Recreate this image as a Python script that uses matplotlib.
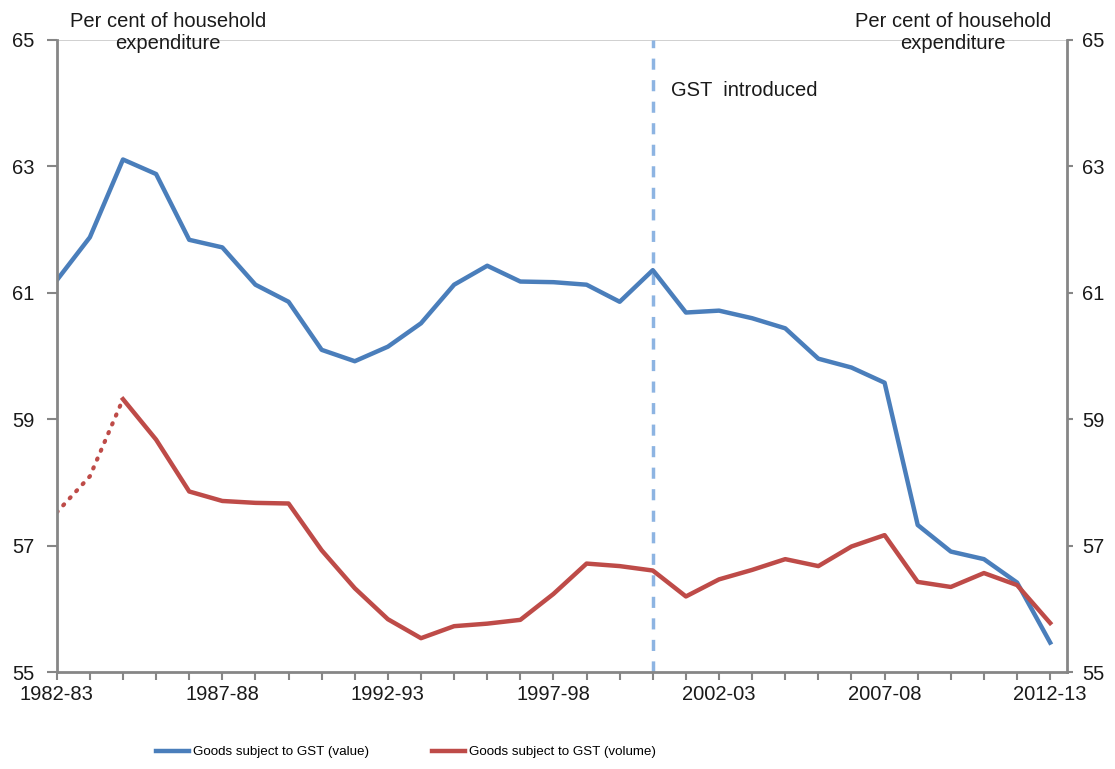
"""
Goods subject to GST as a share of household expenditure, 1982-83 to 2012-13.
"""

import matplotlib
matplotlib.use("Agg")
import matplotlib.pyplot as plt

plt.rcParams["font.family"] = ["Liberation Sans", "DejaVu Sans"]

YEARS = [f"{y}-{(y + 1) % 100:02d}" for y in range(1982, 2013)]

# Per cent of household expenditure
GST_VALUE = [
    61.20, 61.88, 63.11, 62.88, 61.84, 61.72, 61.13, 60.86, 60.10, 59.92,
    60.15, 60.52, 61.13, 61.43, 61.18, 61.17, 61.13, 60.86, 61.36, 60.69,
    60.72, 60.60, 60.44, 59.96, 59.82, 59.58, 57.33, 56.91, 56.79, 56.42,
    55.47,
]
GST_VOLUME = [
    57.53, 58.10, 59.32, 58.68, 57.86, 57.71, 57.68, 57.67, 56.93, 56.33,
    55.84, 55.54, 55.73, 55.77, 55.83, 56.24, 56.72, 56.68, 56.61, 56.20,
    56.47, 56.62, 56.79, 56.68, 56.99, 57.17, 56.43, 56.35, 56.57, 56.38,
    55.78,
]
GST_START = "2000-01"
LABEL_YEARS = YEARS[::5]

BLUE = "#4A7EBB"
RED = "#BE4B48"
AXIS_GREY = "#868686"
TEXT = "#1a1a1a"
FS = 14.5

fig = plt.figure(figsize=(11.15, 7.69), dpi=100)
ax = fig.add_axes([0.0509, 0.1257, 0.9058, 0.8223])

x = list(range(len(YEARS)))
ax.plot(x, GST_VALUE, color=BLUE, lw=3.2, solid_joinstyle="round",
        label="Goods subject to GST (value)")
# early volume estimates drawn dotted
ax.plot(x[:3], GST_VOLUME[:3], color=RED, lw=3.0, ls=(0, (0.3, 2.0)),
        dash_capstyle="round")
ax.plot(x[2:], GST_VOLUME[2:], color=RED, lw=3.2, solid_joinstyle="round",
        label="Goods subject to GST (volume)")

gst_x = YEARS.index(GST_START)
ax.axvline(gst_x, color="#8DB4E2", lw=2.5, ls=(0, (3.2, 3.0)), zorder=1)
ax.text(gst_x + 0.55, 64.2, "GST  introduced", fontsize=FS, color=TEXT,
        ha="left", va="center")

ax.axhline(65, color="#c8c8c8", lw=1.2, zorder=0)

ax.set_xlim(0, len(YEARS) - 0.5)
ax.set_ylim(55, 65)
ax.set_yticks(range(55, 66, 2))
ax.set_xticks(x, minor=True)
ax.set_xticks(x[::5])
ax.set_xticklabels(LABEL_YEARS)

ax.tick_params(axis="both", which="both", colors=AXIS_GREY, width=1.5,
               labelcolor=TEXT, labelsize=FS)
ax.tick_params(axis="x", which="both", length=6, pad=3)
ax.tick_params(axis="y", length=7, pad=9)

for side in ("left", "right", "bottom"):
    ax.spines[side].set_color(AXIS_GREY)
    ax.spines[side].set_linewidth(2)
ax.spines["top"].set_visible(False)

ax2 = ax.twinx()
ax2.set_ylim(ax.get_ylim())
ax2.set_yticks(range(55, 66, 2))
ax2.tick_params(axis="y", colors=AXIS_GREY, width=1.5, length=4, pad=7,
                labelcolor=TEXT, labelsize=FS)
for side in ("left", "right", "bottom", "top"):
    ax2.spines[side].set_visible(False)

for xc in (0.151, 0.855):
    fig.text(xc, 0.958, "Per cent of household\nexpenditure", fontsize=FS,
             color=TEXT, ha="center", va="center", linespacing=1.2)

fig.legend(loc="center", bbox_to_anchor=(0.364, 0.022), ncol=2, frameon=False,
           fontsize=9.6, handlelength=2.5, handletextpad=0.3,
           columnspacing=4.7)

fig.savefig("out.png", dpi=100)
